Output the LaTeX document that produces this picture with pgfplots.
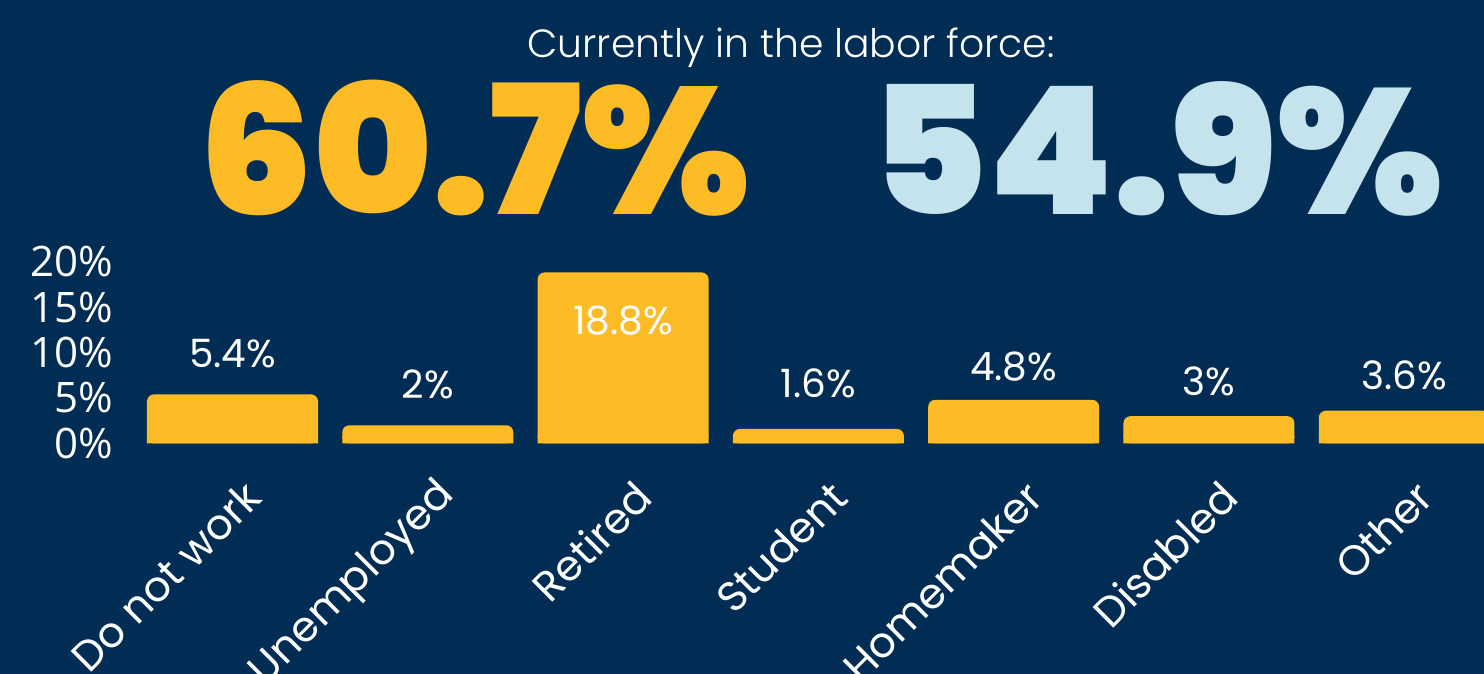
\documentclass[border=0pt]{standalone}
\usepackage{fontspec}
\setmainfont{Poppins}
\newfontfamily\pblack{Poppins Black}
\newfontfamily\plight{Poppins Light}
\newfontfamily\tickf{Open Sans}
\usepackage{pgfplots}
\usepackage{pgfplotstable}
\pgfplotsset{compat=1.18}
\definecolor{bg}{RGB}{1,45,85}
\definecolor{barY}{RGB}{253,188,37}
\definecolor{ltblue}{RGB}{197,227,236}
\pgfplotstableread{
x v ly lab
0 5.4 9.9 5.4
1 2.0 6.5 2
2 18.8 13.5 18.8
3 1.6 6.6 1.6
4 4.8 8.5 4.8
5 3.0 6.8 3
6 3.6 7.5 3.6
}\datatab
\begin{document}
\begin{tikzpicture}[x=1pt,y=1pt]
\path[use as bounding box, clip] (0,0) rectangle (1484,674);
\fill[bg] (0,0) rectangle (1484,674);
\node[anchor=base, text=white, font=\plight\fontsize{39.3}{42}\selectfont, inner sep=0pt] at (791,616) {Currently in the labor force:};
\node[anchor=base, text=barY, font=\pblack\fontsize{180}{184}\selectfont, inner sep=0pt] at (475,459) {60.7\%};
\node[anchor=base, text=ltblue, font=\pblack\fontsize{178}{182}\selectfont, inner sep=0pt] at (1157,459) {54.9\%};
\begin{axis}[
  at={(134.85pt,230.5pt)}, anchor=south west,
  scale only axis, width=1367.1pt, height=182pt,
  xmin=-0.5, xmax=6.5, ymin=0, ymax=20,
  axis line style={draw=none}, major tick length=0pt,
  xtick={0,...,6},
  xticklabels={Do not work, Unemployed, Retired, Student, Homemaker, Disabled, Other},
  xticklabel style={rotate=45, anchor=east, text=white, inner sep=0pt,
    font=\fontsize{42}{44}\selectfont, xshift=-17.7pt, yshift=-47.1pt},
  ytick={0,5,10,15,20},
  yticklabels={0\%,5\%,10\%,15\%,20\%},
  yticklabel style={anchor=east, text=white, inner sep=0pt, xshift=-22pt,
    font=\tickf\fontsize{42}{44}\selectfont},
  clip=true,
]
\addplot[ybar, bar width=171pt, bar shift=0pt, fill=barY, draw=none, rounded corners=7pt]
  table[x=x, y=v] {\datatab};
\addplot[ybar, bar width=171pt, bar shift=0pt, fill=barY, draw=none,
  y filter/.expression={min(y,0.85)}]
  table[x=x, y=v] {\datatab};
\addplot[draw=none, mark=none, nodes near coords={\pgfplotspointmeta\%},
  point meta=explicit symbolic,
  every node near coord/.append style={anchor=center, text=white, inner sep=0pt,
    font=\fontsize{39}{40}\selectfont}]
  table[x=x, y=ly, meta=lab] {\datatab};
\end{axis}
\end{tikzpicture}
\end{document}
